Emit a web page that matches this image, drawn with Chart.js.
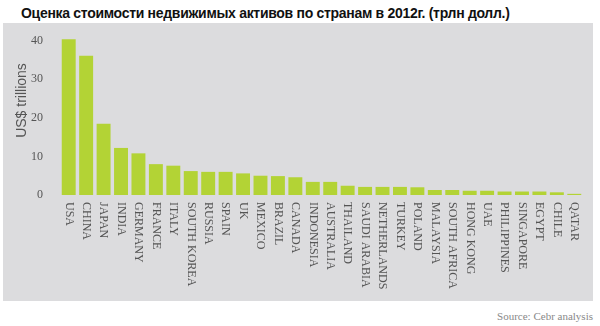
<!DOCTYPE html>
<html>
<head>
<meta charset="utf-8">
<script src="https://cdn.jsdelivr.net/npm/chart.js@4"></script>
<style>
body { margin: 0; background: #fff; width: 600px; height: 326px; position: relative; overflow: hidden; }
#title { position: absolute; left: 21px; top: 5px; font: bold 14px "Liberation Sans", Arial, sans-serif; letter-spacing: -0.3px; color: #111; white-space: nowrap; }
#panel { position: absolute; left: 3px; top: 23px; width: 590px; height: 278px; background: #dcdcde; }
#source { position: absolute; right: 7px; top: 310px; font: 11px "Liberation Serif", serif; color: #888; }
</style>
</head>
<body>
<div id="title">Оценка стоимости недвижимых активов по странам в 2012г. (трлн долл.)</div>
<div id="panel"><canvas id="barChart" width="590" height="278"></canvas></div>
<div id="source">Source: Cebr analysis</div>
<script>
// data
var countries = ["USA", "CHINA", "JAPAN", "INDIA", "GERMANY", "FRANCE", "ITALY", "SOUTH KOREA", "RUSSIA", "SPAIN",
  "UK", "MEXICO", "BRAZIL", "CANADA", "INDONESIA", "AUSTRALIA", "THAILAND", "SAUDI ARABIA", "NETHERLANDS", "TURKEY",
  "POLAND", "MALAYSIA", "SOUTH AFRICA", "HONG KONG", "UAE", "PHILIPPINES", "SINGAPORE", "EGYPT", "CHILE", "QATAR"];
var values = [40.4, 36.1, 18.5, 12.2, 10.8, 8.0, 7.6, 6.2, 6.0, 6.0,
  5.6, 5.0, 4.9, 4.6, 3.4, 3.4, 2.4, 2.1, 2.1, 2.1,
  2.0, 1.3, 1.3, 1.1, 1.1, 0.9, 0.9, 0.9, 0.7, 0.3];
var yTicks = [0, 10, 20, 30, 40];

// vertical labels reading top to bottom + y axis title
var labelPlugin = {
  id: 'labelPlugin',
  afterDraw: function(chart) {
    var ctx = chart.ctx;
    var xs = chart.scales.x, ys = chart.scales.y;
    ctx.save();
    ctx.fillStyle = '#555';
    ctx.font = '12px "Liberation Serif", serif';
    ctx.textAlign = 'left';
    ctx.textBaseline = 'middle';
    countries.forEach(function(c, i) {
      ctx.save();
      ctx.translate(xs.getPixelForTick(i), chart.chartArea.bottom + 7);
      ctx.rotate(Math.PI / 2);
      ctx.fillText(c, 0, 0);
      ctx.restore();
    });
    ctx.font = '14px "Liberation Sans", Arial, sans-serif';
    ctx.textAlign = 'center';
    ctx.translate(19, ys.getPixelForValue(24.5));
    ctx.rotate(-Math.PI / 2);
    ctx.fillText('US$ trillions', 0, 0);
    ctx.restore();
  }
};

var ctxB = document.getElementById("barChart").getContext('2d');
var myBarChart = new Chart(ctxB, {
  type: 'bar',
  data: {
    labels: countries,
    datasets: [{
      data: values,
      backgroundColor: '#b3d335',
      barPercentage: 0.8,
      categoryPercentage: 1.0
    }]
  },
  options: {
    responsive: false,
    animation: false,
    layout: { padding: { top: 10, right: 10, bottom: 0, left: 0 } },
    plugins: { legend: { display: false }, tooltip: { enabled: false } },
    scales: {
      x: {
        grid: { display: false },
        border: { display: false },
        ticks: { display: false },
        afterFit: function(s) { s.height = 106; }
      },
      y: {
        min: 0, max: 42,
        afterBuildTicks: function(s) { s.ticks = yTicks.map(function(v) { return { value: v }; }); },
        grid: { display: false, drawTicks: true, tickLength: 15 },
        border: { display: false },
        ticks: { color: '#555', padding: 2, font: { family: '"Liberation Serif", serif', size: 12 } },
        afterFit: function(s) { s.width = 57; }
      }
    }
  },
  plugins: [labelPlugin]
});
</script>
</body>
</html>
